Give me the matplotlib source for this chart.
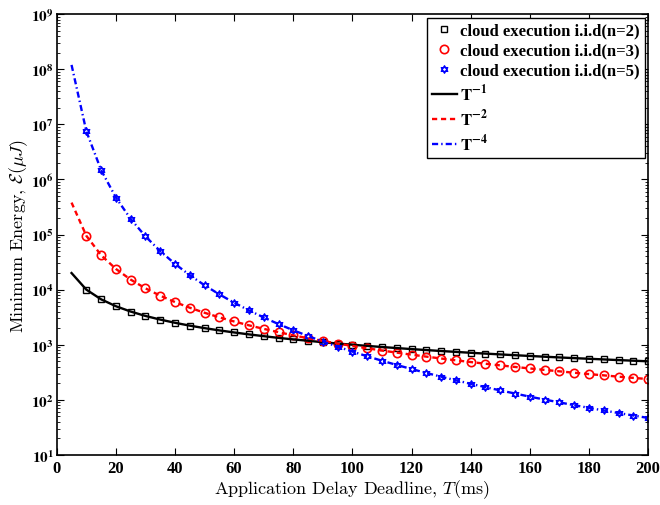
import matplotlib
matplotlib.use("Agg")
import matplotlib.pyplot as plt
from matplotlib.path import Path
from matplotlib.ticker import FixedLocator, FuncFormatter, LogLocator, NullFormatter
import numpy as np

# Application delay deadline T (ms)
T = [5, 10, 15, 20, 25, 30, 35, 40, 45, 50, 55, 60, 65, 70, 75, 80, 85, 90, 95, 100,
     105, 110, 115, 120, 125, 130, 135, 140, 145, 150, 155, 160, 165, 170, 175, 180,
     185, 190, 195, 200]

# Minimum energy (uJ)
E_n2 = [20000, 10000, 6670, 5000, 4000, 3330, 2860, 2500, 2220, 2000, 1820, 1670, 1540,
        1430, 1330, 1250, 1180, 1110, 1050, 1000, 952, 909, 870, 833, 800, 769, 741, 714,
        690, 667, 645, 625, 606, 588, 571, 556, 541, 526, 513, 500]
E_n3 = [380000, 95000, 42200, 23750, 15200, 10560, 7760, 5940, 4690, 3800, 3140, 2640,
        2250, 1940, 1690, 1480, 1310, 1170, 1050, 950, 862, 785, 718, 660, 608, 562, 521,
        485, 452, 422, 395, 371, 349, 329, 310, 293, 278, 263, 250, 238]
E_n5 = [1.2e8, 7.5e6, 1.48e6, 468750, 192000, 92600, 49980, 29300, 18290, 12000, 8196,
        5787, 4202, 3124, 2370, 1831, 1437, 1143, 921, 750, 617, 512, 429, 362, 307, 263,
        226, 195, 170, 148, 130, 114, 101, 89.8, 80.0, 71.4, 64.0, 57.6, 51.9, 46.9]

marker_labels = ["cloud execution i.i.d(n=2)", "cloud execution i.i.d(n=3)",
                 "cloud execution i.i.d(n=5)"]
line_labels = [r"$\mathbf{T^{-1}}$", r"$\mathbf{T^{-2}}$", r"$\mathbf{T^{-4}}$"]

# hexagram marker
tri1 = [(0, 1), (0.866, -0.5), (-0.866, -0.5), (0, 1)]
tri2 = [(0, -1), (0.866, 0.5), (-0.866, 0.5), (0, -1)]
codes = [Path.MOVETO, Path.LINETO, Path.LINETO, Path.CLOSEPOLY]
hexagram = Path(tri1 + tri2, codes + codes)

fig = plt.figure(figsize=(6.6, 5.06), dpi=100)
ax = fig.add_axes([0.086, 0.099, 0.896, 0.871])

Tm = T[1:]
h1, = ax.plot(Tm, E_n2[1:], linestyle="none", marker="s", markersize=4.5,
              markerfacecolor="none", markeredgecolor="black", markeredgewidth=1.0,
              label=marker_labels[0])
h2, = ax.plot(Tm, E_n3[1:], linestyle="none", marker="o", markersize=6,
              markerfacecolor="none", markeredgecolor="red", markeredgewidth=1.2,
              label=marker_labels[1])
h3, = ax.plot(Tm, E_n5[1:], linestyle="none", marker=hexagram, markersize=5.5,
              markerfacecolor="none", markeredgecolor="blue", markeredgewidth=0.9,
              label=marker_labels[2])
l1, = ax.plot(T, E_n2, color="black", linestyle="-", linewidth=1.7, label=line_labels[0])
l2, = ax.plot(T, E_n3, color="red", linestyle=(0, (2.2, 1.6)), linewidth=1.7,
              label=line_labels[1])
l3, = ax.plot(T, E_n5, color="blue", linestyle=(0, (2.6, 1.3, 0.6, 1.3)), linewidth=1.7,
              label=line_labels[2])

ax.set_yscale("log")
ax.set_xlim(0, 200)
ax.set_ylim(1e1, 1e9)

ax.xaxis.set_major_locator(FixedLocator(list(range(0, 201, 20))))
ax.yaxis.set_major_locator(FixedLocator([10.0 ** k for k in range(1, 10)]))
ax.yaxis.set_minor_locator(LogLocator(base=10, subs=np.arange(2, 10), numticks=50))
ax.yaxis.set_minor_formatter(NullFormatter())
ax.yaxis.set_major_formatter(FuncFormatter(lambda v, p: r"$\mathbf{10^{%d}}$" % round(np.log10(v))))

ax.tick_params(which="both", direction="in", top=True, right=True)
ax.tick_params(which="major", length=5, width=0.8)
ax.tick_params(which="minor", length=2.5, width=0.6)
ax.tick_params(axis="y", which="major", pad=2)
for lab in ax.get_xticklabels():
    lab.set_fontfamily("Liberation Serif")
    lab.set_fontweight("bold")
    lab.set_fontsize(12)
for lab in ax.get_yticklabels():
    lab.set_fontsize(11)
    lab.set_math_fontfamily("stix")
for sp in ax.spines.values():
    sp.set_linewidth(1.2)

ax.set_xlabel(r"Application Delay Deadline, $T$(ms)", fontfamily="cmr10", fontsize=13,
              math_fontfamily="cm", labelpad=1)
ax.set_ylabel(r"Minimum Energy, $\mathcal{E}(\mu J)$", fontfamily="cmr10", fontsize=13,
              math_fontfamily="cm")
ax.yaxis.set_label_coords(-0.045, 0.5)

leg = ax.legend(handles=[h1, h2, h3, l1, l2, l3], loc="upper right",
                prop=dict(family="Liberation Serif", weight="bold", size=12),
                frameon=True, fancybox=False, edgecolor="black", framealpha=1,
                borderpad=0.3, labelspacing=0.25, handlelength=1.5, handletextpad=0.2,
                borderaxespad=0.2)
leg.get_frame().set_linewidth(1.0)
for t in leg.get_texts():
    t.set_math_fontfamily("stix")

fig.savefig("out.png", dpi=100)
